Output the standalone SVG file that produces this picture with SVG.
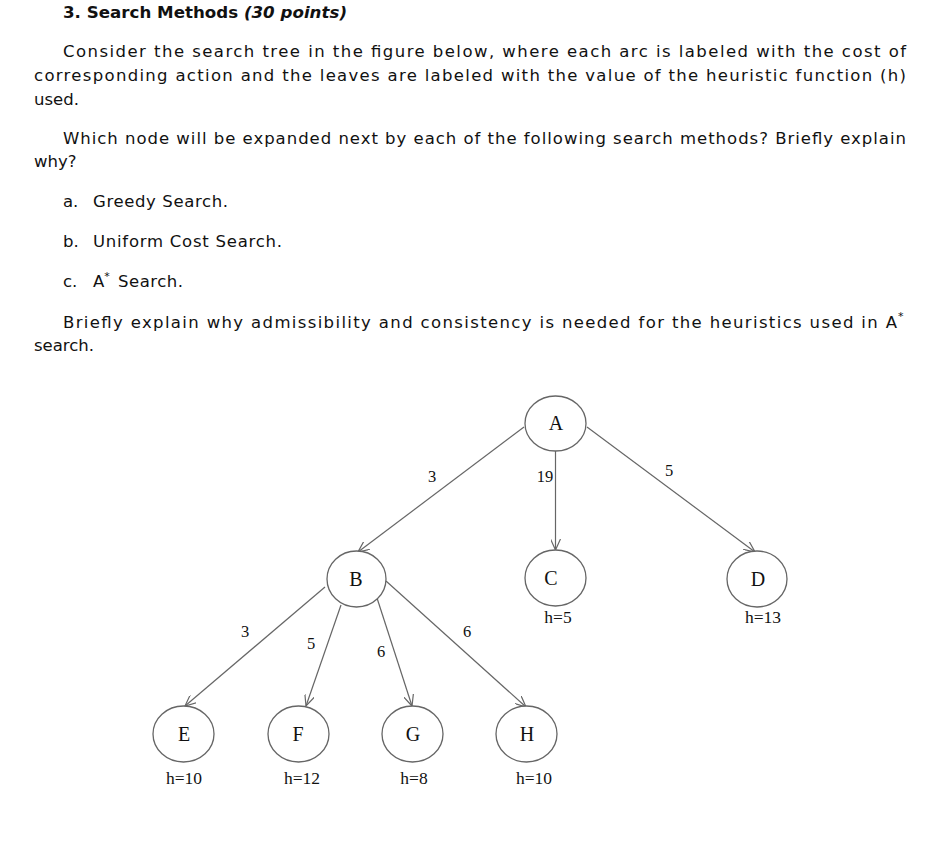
<svg xmlns="http://www.w3.org/2000/svg" width="946" height="858" viewBox="0 0 946 858">
<style>
.t{font-family:"DejaVu Sans",sans-serif;font-size:16.5px;fill:#111}
.b{font-weight:bold}
.sup{font-size:11px}
.n{fill:#fff;stroke:#666;stroke-width:1.3}
.nl{font-family:"Liberation Serif",serif;font-size:20px;fill:#111;text-anchor:middle}
.h{font-family:"Liberation Serif",serif;font-size:17.5px;fill:#111;text-anchor:middle}
.e{stroke:#666;stroke-width:1.2;fill:none;marker-end:url(#arr)}
.el{font-family:"Liberation Serif",serif;font-size:16.5px;fill:#111;text-anchor:middle}
</style>
<defs>
<marker id="arr" viewBox="0 0 12 10" refX="11" refY="5" markerWidth="12" markerHeight="10" markerUnits="userSpaceOnUse" orient="auto">
<path d="M0,0 L11,5 L0,10" fill="none" stroke="#666" stroke-width="1.2"/>
</marker>
</defs>
<rect width="946" height="858" fill="#fff"/>
<g id="text">
<text class="t b" x="63" y="18" textLength="284" lengthAdjust="spacingAndGlyphs">3. Search Methods <tspan font-style="italic">(30 points)</tspan></text>
<text class="t" x="63" y="57" textLength="843" lengthAdjust="spacing">Consider the search tree in the figure below, where each arc is labeled with the cost of</text>
<text class="t" x="34" y="81" textLength="872" lengthAdjust="spacing">corresponding action and the leaves are labeled with the value of the heuristic function (h)</text>
<text class="t" x="34" y="105">used.</text>
<text class="t" x="63" y="144" textLength="843" lengthAdjust="spacing">Which node will be expanded next by each of the following search methods? Briefly explain</text>
<text class="t" x="34" y="167">why?</text>
<text class="t" x="63" y="207">a.</text>
<text class="t" x="93" y="207" textLength="135" lengthAdjust="spacing">Greedy Search.</text>
<text class="t" x="63" y="247">b.</text>
<text class="t" x="93" y="247" textLength="189" lengthAdjust="spacing">Uniform Cost Search.</text>
<text class="t" x="63" y="287">c.</text>
<text class="t" x="93" y="287">A<tspan class="sup" dy="-7">*</tspan></text>
<text class="t" x="118" y="287" textLength="65" lengthAdjust="spacing">Search.</text>
<text class="t" x="63" y="328" textLength="834" lengthAdjust="spacing">Briefly explain why admissibility and consistency is needed for the heuristics used in A</text>
<text class="t sup" x="898" y="320">*</text>
<text class="t" x="34" y="351">search.</text>
</g>
<g id="connectors">
<line class="e" x1="524" y1="427" x2="358" y2="552"/>
<line class="e" x1="555.5" y1="451" x2="555.5" y2="550"/>
<line class="e" x1="587" y1="427" x2="755" y2="552"/>
<line class="e" x1="325" y1="587" x2="185" y2="706"/>
<line class="e" x1="341" y1="605" x2="306" y2="706"/>
<line class="e" x1="377" y1="598" x2="412" y2="706"/>
<line class="e" x1="386" y1="581" x2="526" y2="707"/>
<text class="el" x="432" y="482">3</text>
<text class="el" x="545" y="482">19</text>
<text class="el" x="669" y="476">5</text>
<text class="el" x="245" y="637">3</text>
<text class="el" x="311" y="649">5</text>
<text class="el" x="381" y="657">6</text>
<text class="el" x="467" y="637">6</text>
</g>
<g id="A"><ellipse class="n" cx="555.5" cy="423.5" rx="30.5" ry="27.5"/><text class="nl" x="556" y="430">A</text></g>
<g id="B"><ellipse class="n" cx="356.5" cy="579" rx="29.5" ry="28"/><text class="nl" x="356" y="586">B</text></g>
<g id="C"><ellipse class="n" cx="555.5" cy="578" rx="30.5" ry="28"/><text class="nl" x="551" y="585">C</text><text class="h" x="558" y="623">h=5</text></g>
<g id="D"><ellipse class="n" cx="757" cy="579" rx="30" ry="28"/><text class="nl" x="758" y="586">D</text><text class="h" x="763" y="623">h=13</text></g>
<g id="E"><ellipse class="n" cx="183.5" cy="734" rx="30.5" ry="28"/><text class="nl" x="184" y="741">E</text><text class="h" x="184" y="784">h=10</text></g>
<g id="F"><ellipse class="n" cx="298.5" cy="734" rx="30.5" ry="28"/><text class="nl" x="298" y="741">F</text><text class="h" x="302" y="784">h=12</text></g>
<g id="G"><ellipse class="n" cx="412.5" cy="734" rx="30.5" ry="28"/><text class="nl" x="413" y="741">G</text><text class="h" x="414" y="784">h=8</text></g>
<g id="H"><ellipse class="n" cx="526.5" cy="734" rx="30.5" ry="28"/><text class="nl" x="527" y="741">H</text><text class="h" x="534" y="784">h=10</text></g>
</svg>
